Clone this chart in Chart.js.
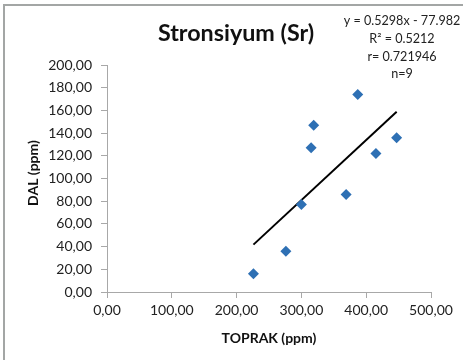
<!DOCTYPE html>
<html>
<head>
<meta charset="utf-8">
<script src="https://cdn.jsdelivr.net/npm/chart.js@4/dist/chart.umd.min.js"></script>
<style>
  html, body { margin: 0; padding: 0; background: #fff; }
  #wrap { width: 463px; height: 360px; position: relative; }
</style>
</head>
<body>
<div id="wrap"><canvas id="chart" width="463" height="360"></canvas></div>
<script>
// values
const toprak = [226, 276, 300, 315, 319, 369, 387, 415, 447]
const dal = [16, 36, 77, 127, 147, 86, 174, 122, 136]
const xTicks = [0, 100, 200, 300, 400, 500]
const yTicks = [0, 20, 40, 60, 80, 100, 120, 140, 160, 180, 200]
const slope = 0.5298
const intercept = -77.982
const eqLines = ["y = 0.5298x - 77.982", "R\u00b2 = 0.5212", "r= 0.721946", "n=9"]

const FONT = "Lato, 'Open Sans', sans-serif"
const fmt = v => v.toFixed(2).replace(".", ",")

let points = toprak.map((x, i) => ({ x: x, y: dal[i] }))
let xmin = Math.min(...toprak), xmax = Math.max(...toprak)
let trend = [xmin, xmax].map(x => ({ x: x, y: slope * x + intercept }))

// pick a font size so that the text spans about the same width as in the picture
function fitFont(c, text, weight, width) {
    c.font = weight + " 20px " + FONT
    let s = 20 * width / c.measureText(text).width
    c.font = weight + " " + s.toFixed(1) + "px " + FONT
}

const extras = {
    id: "extras",
    afterDraw(chart) {
        const c = chart.ctx
        c.save()
        // frame (only top and left edges show in the crop)
        c.strokeStyle = "#a3a6a5"
        c.lineWidth = 2
        c.beginPath()
        c.moveTo(4, 360); c.lineTo(4, 5); c.lineTo(463, 5)
        c.stroke()
        // title
        c.fillStyle = "#111"
        c.textAlign = "center"
        c.textBaseline = "middle"
        fitFont(c, "Stronsiyum (Sr)", "bold", 156)
        c.fillText("Stronsiyum (Sr)", 236, 33)
        // trendline label
        c.fillStyle = "#222"
        fitFont(c, eqLines[0], "normal", 117)
        eqLines.forEach((t, i) => c.fillText(t, 402, 21 + i * 17.8))
        // y axis title
        c.fillStyle = "#111"
        c.font = "bold 14px " + FONT
        c.translate(33, 173)
        c.rotate(-Math.PI / 2)
        c.fillText("DAL (ppm)", 0, 0)
        c.restore()
    }
}

const axisColor = "#a8a8a8"
const tickFont = { family: FONT, size: 14 }
const titleFont = { family: FONT, size: 14, weight: "bold" }

new Chart(document.getElementById("chart").getContext("2d"), {
    type: "scatter",
    data: {
        datasets: [
            { data: points, pointStyle: "rectRot", pointRadius: 5.5, pointHoverRadius: 5.5,
              backgroundColor: "#2E70B4", borderColor: "#2E70B4", borderWidth: 0 },
            { data: trend, showLine: true, pointRadius: 0, borderColor: "#000", borderWidth: 2 }
        ]
    },
    options: {
        responsive: false,
        animation: false,
        events: [],
        layout: { padding: { top: 65, right: 32, left: 0, bottom: 0 } },
        plugins: { legend: { display: false }, tooltip: { enabled: false }, title: { display: false } },
        scales: {
            x: {
                type: "linear", min: 0, max: 500,
                afterBuildTicks: s => { s.ticks = xTicks.map(v => ({ value: v })) },
                afterFit: s => { s.height = 68 },
                grid: { drawOnChartArea: false, drawTicks: true, tickLength: 6, color: axisColor },
                border: { display: true, color: axisColor, width: 1 },
                ticks: { callback: v => fmt(v), font: tickFont, color: "#222", padding: 4, maxRotation: 0 },
                title: { display: true, text: "TOPRAK (ppm)", font: titleFont, color: "#111", padding: { top: 0, bottom: 13.6 } }
            },
            y: {
                type: "linear", min: 0, max: 200,
                afterBuildTicks: s => { s.ticks = yTicks.map(v => ({ value: v })) },
                afterFit: s => { s.width = 107 },
                grid: { drawOnChartArea: false, drawTicks: true, tickLength: 6, color: axisColor },
                border: { display: true, color: axisColor, width: 1 },
                ticks: { callback: v => fmt(v), font: tickFont, color: "#222", padding: 9 }
            }
        }
    },
    plugins: [extras]
})
</script>
</body>
</html>
